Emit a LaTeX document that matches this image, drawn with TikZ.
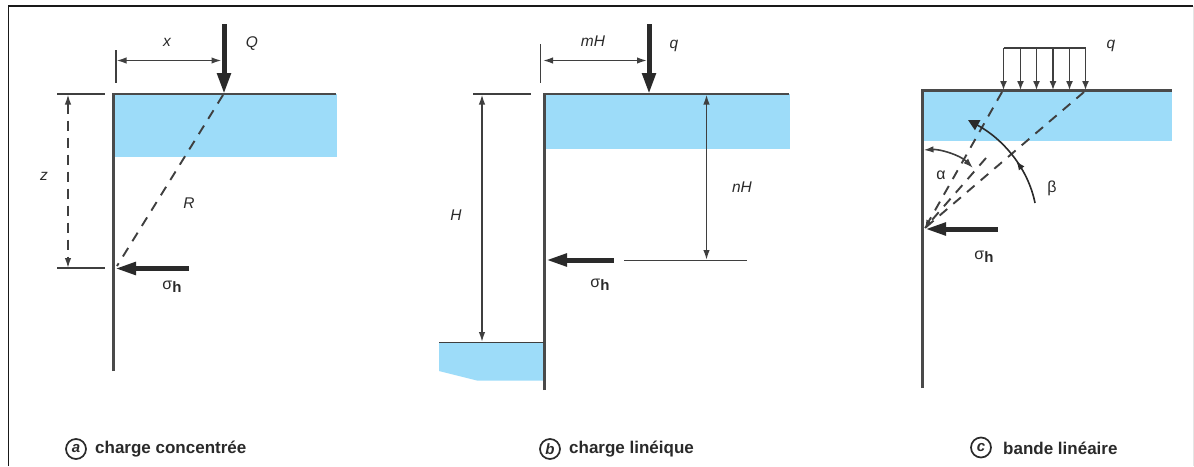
\documentclass[tikz,border=0pt]{standalone}
\usepackage{fontspec}
\setmainfont{Liberation Sans}
\usetikzlibrary{arrows.meta,decorations.markings,calc}
\definecolor{soil}{HTML}{9DDCF9}
\definecolor{ink}{HTML}{2A2A2A}
\tikzset{
  x=1pt,y=-1pt,
  wallline/.style={draw=ink!85,line width=2.6pt},
  thin dim/.style={draw=ink!90,line width=1.6pt},
  dim/.style={thin dim,{Latex[length=10pt,width=6.5pt]}-{Latex[length=10pt,width=6.5pt]}},
  dashdim/.style={dim,dash pattern=on 10pt off 7pt},
  load/.style={draw=ink,line width=5pt,-{Triangle[length=21pt,width=13pt]},shorten >=-1pt},
  stress/.style={draw=ink,line width=5pt,-{Triangle[length=21pt,width=12pt]}},
  rayline/.style={draw=ink!90,line width=1.9pt,dash pattern=on 10pt off 8pt},
  unit/.style={draw=ink!90,line width=1.5pt,-{Latex[length=9pt,width=7pt]}},
  var/.style={inner sep=0pt,font=\fontsize{15.5}{15.5}\selectfont\itshape,text=ink},
  greek/.style={inner sep=0pt,font=\fontsize{16}{16}\selectfont,text=ink},
  capt/.style={inner sep=0pt,anchor=west,font=\fontsize{17}{17}\selectfont\bfseries,text=ink},
  badge/.style={circle,draw=ink,line width=1.7pt,inner sep=0pt,minimum size=20pt,font=\fontsize{15}{15}\selectfont\bfseries\itshape,text=ink},
}
\newcommand{\sigh}{σ\raisebox{-3pt}{\fontsize{15}{15}\selectfont\bfseries h}}
\begin{document}
\begin{tikzpicture}
\useasboundingbox (0,0) rectangle (1194,466);
\fill[white] (0,0) rectangle (1194,466);
% frame
\coordinate (fbl) at (8.5,466);
\coordinate (ftl) at (8.5,6.3);
\coordinate (ftr) at (1193,6.3);
\coordinate (fbr) at (1193,466);
\draw[black!10,line width=1pt] (ftr) -- (fbr);
\draw[black!90,line width=1.9pt] (fbl) -- (ftl) -- (ftr);

% ---------- panel a
\fill[soil] (114,94) rectangle (337,157);
\coordinate (aTop) at (113.5,94);
\coordinate (aEnd) at (336,94);
\coordinate (aBot) at (113.5,371);
\coordinate (aQ0) at (224,24);
\coordinate (aQ1) at (224,93);
\coordinate (aT0) at (116,50);
\coordinate (aT1) at (116,83);
\coordinate (aD0) at (116.5,60.5);
\coordinate (aD1) at (221.5,60.5);
\coordinate (aH0) at (57,94);
\coordinate (aH1) at (105,94);
\coordinate (aL0) at (57,268);
\coordinate (aL1) at (105,268);
\coordinate (aZ0) at (68,94.5);
\coordinate (aZ1) at (68,268);
\coordinate (aS0) at (189,268.5);
\coordinate (aS1) at (115,268.5);
\coordinate (aR0) at (223,95);
\coordinate (aR1) at (117,266);
\draw[wallline] (aBot) -- (aTop) -- (aEnd);
\draw[thin dim] (aT0) -- (aT1) (aH0) -- (aH1) (aL0) -- (aL1);
\draw[dim] (aD0) -- (aD1);
\draw[dashdim] (aZ0) -- (aZ1);
\draw[rayline] (aR0) -- (aR1);
\draw[load] (aQ0) -- (aQ1);
\draw[stress] (aS0) -- (aS1);
\node[var] (lx) at (167,42.5) {x};
\node[var] (lQ) at (252,43.5) {Q};
\node[var] (lz) at (44,176.5) {z};
\node[var] (lR) at (189,203.5) {R};
\node[greek] (laS) at (172,287) {\sigh};

% ---------- panel b
\fill[soil] (545,94) rectangle (789.5,149);
\fill[soil] (439,342) -- (544,342) -- (544,380.5) -- (477,380.5) -- (439,371) -- cycle;
\coordinate (bTop) at (544.5,94);
\coordinate (bEnd) at (789,94);
\coordinate (bBot) at (544.5,390);
\coordinate (bQ0) at (649,24);
\coordinate (bQ1) at (649,93);
\coordinate (bT0) at (540.5,44);
\coordinate (bT1) at (540.5,83);
\coordinate (bD0) at (543,60.5);
\coordinate (bD1) at (647,60.5);
\coordinate (bH0) at (473,94);
\coordinate (bH1) at (531,94);
\coordinate (bV0) at (482,94.5);
\coordinate (bV1) at (482,342);
\coordinate (bF0) at (439,342.5);
\coordinate (bF1) at (544,342.5);
\coordinate (bN0) at (706.5,94.5);
\coordinate (bN1) at (706.5,260);
\coordinate (bR0) at (624,260.5);
\coordinate (bR1) at (747,260.5);
\coordinate (bS0) at (613.5,260);
\coordinate (bS1) at (546,260);
\draw[wallline] (bBot) -- (bTop) -- (bEnd);
\draw[thin dim] (bT0) -- (bT1) (bH0) -- (bH1) (bF0) -- (bF1) (bR0) -- (bR1);
\draw[dim] (bD0) -- (bD1);
\draw[dim] (bV0) -- (bV1);
\draw[dim] (bN0) -- (bN1);
\draw[load] (bQ0) -- (bQ1);
\draw[stress] (bS0) -- (bS1);
\node[var] (lm) at (593,41.5) {mH};
\node[var] (lq) at (674,45.5) {q};
\node[var] (lH) at (456,215.5) {H};
\node[var] (ln) at (742,187.5) {nH};
\node[greek] (lbS) at (600,285) {\sigh};

% ---------- panel c
\fill[soil] (923,90.5) rectangle (1172,141);
\coordinate (cTop) at (922.5,90.5);
\coordinate (cEnd) at (1172,90.5);
\coordinate (cBot) at (922.5,388);
\coordinate (cW) at (925,228);
\draw[wallline] (cBot) -- (cTop) -- (cEnd);
\coordinate (cA) at (1003.5,48);
\coordinate (cB) at (1085.5,48);
\draw[thin dim] (cA) -- (cB);
\foreach \n/\xx in {a/1003.5,b/1020.5,c/1036.5,d/1053,e/1069.5,f/1085.5}{
  \coordinate (cu\n0) at (\xx,48);
  \coordinate (cu\n1) at (\xx,90);
  \draw[unit] (cu\n0) -- (cu\n1);
}
\coordinate (cR1) at (1002,92);
\coordinate (cR2) at (1084,92);
\coordinate (cR3) at (986,158);
\draw[rayline,-{Latex[length=8pt,width=6pt]}] (cR1) -- (cW);
\draw[rayline] (cR2) -- (cW);
\draw[rayline] (cR3) -- (cW);
\coordinate (cS0) at (997.5,229);
\coordinate (cS1) at (925,229);
\draw[stress] (cS0) -- (cS1);
\coordinate (cAl0) at (923.5,150);
\coordinate (cAl1) at (973,168);
\draw[dim] (cAl0) .. controls (940,149) and (960,155) .. (cAl1);
\coordinate (cBe0) at (1035,203);
\coordinate (cBe1) at (968,120);
\draw[draw=ink,line width=1.6pt,-{Triangle[length=11pt,width=11pt]},
  postaction={decorate,decoration={markings,mark=at position 0.42 with {\arrow{Latex[length=9pt,width=7pt]}}}}]
  (cBe0) .. controls (1028,168) and (1003,139) .. (cBe1);
\node[var] (lq2) at (1111,45.5) {q};
\node[greek] (lal) at (941,175) {α};
\node[greek] (lbe) at (1052,188) {β};
\node[greek] (lcS) at (984,257) {\sigh};

% ---------- captions
\node[badge] (ba) at (76,449) {a};
\node[capt] (ca) at (95,449) {charge concentrée};
\node[badge] (bb) at (550,449) {b};
\node[capt] (cb) at (569,449) {charge linéique};
\node[badge] (bc) at (981,447.5) {c};
\node[capt] (cc) at (1003,448) {bande linéaire};
\end{tikzpicture}
\end{document}
